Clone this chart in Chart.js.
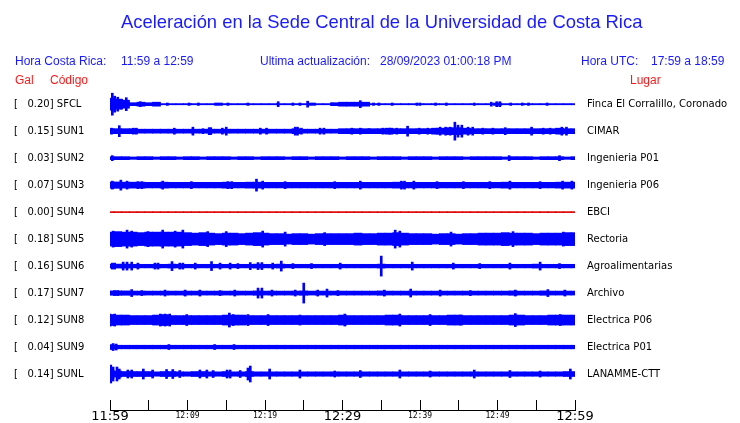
<!DOCTYPE html>
<html>
<head>
<meta charset="utf-8">
<script src="https://cdn.jsdelivr.net/npm/chart.js@4/dist/chart.umd.min.js"></script>
<style>
  body { margin: 0; background: #fff; }
  #wrap { position: relative; width: 740px; height: 423px; overflow: hidden; }
  #chart { position: absolute; left: 0; top: 0; }
  .t { position: absolute; white-space: nowrap; font-family: "Liberation Sans", Arial, sans-serif; }
  .blue { color: #1a1aff; }
  .red { color: #ff1a1a; }
  .h2 { font-size: 12px; line-height: 14px; top: 54px; }
  .h3 { font-size: 12px; line-height: 14px; top: 73px; }
</style>
</head>
<body>
<div id="wrap">
  <canvas id="chart" width="740" height="423"></canvas>
  <div class="t blue" style="left:121px; top:12px; font-size:18.4px; line-height:20px;">Aceleración en la Sede Central de la Universidad de Costa Rica</div>
  <div class="t blue h2" style="left:15px;">Hora Costa Rica:</div>
  <div class="t blue h2" style="left:121px;">11:59 a 12:59</div>
  <div class="t blue h2" style="left:260px;">Ultima actualización:</div>
  <div class="t blue h2" style="left:380px;">28/09/2023 01:00:18 PM</div>
  <div class="t blue h2" style="left:581px;">Hora UTC:</div>
  <div class="t blue h2" style="left:651px;">17:59 a 18:59</div>
  <div class="t red h3" style="left:15px;">Gal</div>
  <div class="t red h3" style="left:50px;">Código</div>
  <div class="t red h3" style="left:630px;">Lugar</div>
</div>
<script>
// estaciones (de arriba hacia abajo)
const codes  = ["SFCL","SUN1","SUN2","SUN3","SUN4","SUN5","SUN6","SUN7","SUN8","SUN9","SUNL"];
const gal    = [0.20, 0.15, 0.03, 0.07, 0.00, 0.18, 0.16, 0.17, 0.12, 0.04, 0.14];
const places = ["Finca El Corralillo, Coronado","CIMAR","Ingenieria P01","Ingenieria P06","EBCI",
                "Rectoria","Agroalimentarias","Archivo","Electrica P06","Electrica P01","LANAMME-CTT"];

// eje de tiempo: minutos desde 11:59
const minutes = [0,1,2,3,4,5,6,7,8,9,10,11,12,13,14,15,16,17,18,19,20,21,22,23,24,25,26,27,28,29,
                 30,31,32,33,34,35,36,37,38,39,40,41,42,43,44,45,46,47,48,49,50,51,52,53,54,55,56,57,58,59,60];
const tickMinutes = [0,5,10,15,20,25,30,35,40,45,50,55,60];
const timeLabels  = ["11:59","12:09","12:19","12:29","12:39","12:49","12:59"];

// amplitud de la envolvente por minuto (27 unidades = separacion entre trazas)
const envSFCL = [6,5,4,1.5,2,1.5,2,0.6,0.6,0.6, 0.6,0.6,0.6,0.6,1.2,0.6,0.6,0.6,0.6,0.6,
                 0.6,0.6,0.6,0.6,0.6,0.6,1.2,0.6,0.6,1.5, 2,2,2,2,0.6,0.6,0.6,0.6,0.6,0.6,
                 0.6,0.6,0.6,0.6,0.6,0.6,0.6,0.6,0.6,0.6, 1.2,0.6,0.6,0.6,0.6,0.6,0.6,0.6,0.6,0.6, 0.6];
const envSUN1 = [2.5,2.5,2.5,2.5,2,2,2,2,2,2, 2,2,2,2,2,2,2,2,2,2, 2,2,2,2,2.5,2,2,2,2,2,
                 2.5,2.5,2.5,2.5,2.5,2.5,3,2.5,2.5,2.5, 2.5,2.5,3,3,3.5,3.5,3,2.5,2.5,2.5,
                 2.5,2.5,2.5,2.5,2.5,2.5,2.5,2.5,3,2.5, 2.5];
const envSUN2 = [1.5,1.5,1.5,1.2,1.5,1.5,1.2,1.5,1.5,1.2, 1.5,1.5,1.2,1.5,1.5,1.5,1.2,1.5,1.5,1.2,
                 1.5,1.5,1.5,1.2,1.5,1.5,1.2,1.5,1.5,1.5, 1.2,1.5,1.5,1.5,1.2,1.5,1.5,1.5,1.2,1.5,
                 1.5,1.5,1.2,1.5,1.5,1.5,1.2,1.5,1.5,1.5, 1.5,1.2,1.5,1.5,1.5,1.2,1.5,1.5,1.5,1.2, 1.5];
const envSUN3 = [3.2,3.2,3,3,3,2.8,2.8,3,2.8,2.8, 2.8,2.8,2.8,2.8,2.8,3,2.8,2.8,3,3,
                 2.8,2.8,2.8,2.8,2.8,2.8,2.8,2.8,2.8,2.8, 2.8,2.8,2.8,2.8,2.8,2.8,2.8,3,2.8,2.8,
                 2.8,2.8,2.8,2.8,2.8,2.8,2.8,2.8,2.8,2.8, 2.8,3,2.8,2.8,2.8,2.8,2.8,2.8,3,3, 3];
const envSUN4 = [0.5,0.5,0.5,0.5,0.5,0.5,0.5,0.5,0.5,0.5, 0.5,0.5,0.5,0.5,0.5,0.5,0.5,0.5,0.5,0.5,
                 0.5,0.5,0.5,0.5,0.5,0.5,0.5,0.5,0.5,0.5, 0.5,0.5,0.5,0.5,0.5,0.5,0.5,0.5,0.5,0.5,
                 0.5,0.5,0.5,0.5,0.5,0.5,0.5,0.5,0.5,0.5, 0.5,0.5,0.5,0.5,0.5,0.5,0.5,0.5,0.5,0.5, 0.5];
const envSUN5 = [7,7.5,7,7,6.5,7,7,7,7,7, 6.5,6,6.5,6,5.5,6,6,5.5,6,6.5,
                 6,5.5,5.5,5,5.5,5.5,5,5.5,5.5,5.5, 5.5,5.5,6,5.5,5.5,6,6,6.5,6,5.5,
                 5.5,5.5,5,5.5,5.5,5,5.5,5.5,6,6, 6,6.5,6,6,6,5.5,6,6,6,6.5, 6.5];
const envSUN6 = [2,2,2,1.8,1.8,1.8,1.8,1.8,2,1.8, 1.8,1.8,1.8,1.8,1.8,1.8,1.8,1.8,1.8,2,
                 1.8,1.8,2,1.8,1.8,1.8,1.8,1.8,1.8,1.8, 1.8,1.8,1.8,1.8,1.8,2,1.8,1.8,1.8,1.8,
                 1.8,1.8,1.8,1.8,1.8,1.8,1.8,1.8,1.8,1.8, 1.8,1.8,1.8,1.8,1.8,2,1.8,1.8,1.8,1.8, 1.8];
const envSUN7 = [2.2,2.2,2.2,2,2,2,2,2,2,2, 2,2,2,2,2,2,2,2,2,2.2,
                 2,2,2,2,2,2.2,2,2,2,2, 2,2,2,2,2,2.2,2,2,2,2,
                 2,2,2,2,2,2,2,2,2,2, 2,2,2.2,2,2,2,2.2,2,2,2, 2];
const envSUN8 = [5.5,5,5,4.5,4.5,4.5,5,5.5,4.5,4.5, 4.5,4.5,4.5,4.5,4.5,5,5,5,4.5,4.5,
                 4.5,4.5,4.5,4.5,4.5,4.5,4.5,4.5,4.5,4.5, 5,4.5,4.5,4.5,4.5,4.5,5,5,4.5,4.5,
                 4.5,4.5,4.5,4.5,5,5,4.5,4.5,4.5,4.5, 4.5,4.5,5,5,4.5,4.5,4.5,5,5,5, 5];
const envSUN9 = [2.5,1.8,1.8,1.8,1.8,1.8,1.8,1.8,1.8,1.8, 1.8,1.8,1.8,1.8,1.8,1.8,1.8,1.8,1.8,1.8,
                 1.8,1.8,1.8,1.8,1.8,1.8,1.8,1.8,1.8,1.8, 1.8,1.8,1.8,1.8,1.8,1.8,1.8,1.8,1.8,1.8,
                 1.8,1.8,1.8,1.8,1.8,1.8,1.8,1.8,1.8,1.8, 1.8,1.8,1.8,1.8,1.8,1.8,1.8,1.8,1.8,1.8, 1.8];
const envSUNL = [4,3,2.5,2.5,2.5,2.5,2.2,2.5,2.5,2.2, 2.2,2.5,2.5,2.2,2.2,2.5,2.2,2.2,2.5,2.2,
                 2.2,2.2,2.2,2.2,2.2,2.2,2.2,2.2,2.2,2.2, 2.2,2.2,2.2,2.2,2.2,2.2,2.2,2.2,2.2,2.2,
                 2.2,2.2,2.2,2.2,2.2,2.2,2.2,2.2,2.2,2.2, 2.2,2.2,2.2,2.2,2.2,2.2,2.2,2.2,2.2,2.5, 2.5];

// picos: [minuto, amplitud]
const spkSFCL = [[0.3,11],[0.6,8],[1.0,7],[1.5,5],[2.1,6.5],[3.9,2.5],[7.4,1.2],[10.2,1.2],[11.4,1.2],
                 [15.2,1.2],[17.8,1.2],[21.7,2.5],[23.6,1.2],[24.5,1.2],[25.5,3],[28.6,1.2],[32.3,3.5],
                 [34,1.2],[34.7,1.2],[36.4,1.2],[39.6,1.2],[40,1.2],[42,1.2],[43.4,1.2],[47,1.2],
                 [49.2,2],[49.9,2.5],[50.3,2.5],[51.7,1.2],[53.2,1.2],[54,1.2],[56.4,1.2]];
const spkSUN1 = [[0.2,3],[1.2,5.5],[3,3],[3.4,3],[8.3,3],[10.7,4],[12,2.5],[12.8,3.5],[13,3.5],[14.5,3],
                 [15,4],[19.4,3],[20.2,3],[23.9,4],[24.2,4],[24.7,3],[27.1,3],[27.6,3],[31.2,3],[32.3,3],
                 [33.4,2.5],[35.2,3],[36.1,3],[37,3],[38.4,5],[39.9,3],[41,3],[42.2,3],[42.6,4],[43.3,4],
                 [43.9,4],[44.5,9],[44.9,6],[45.4,6],[46.2,4],[46.8,4],[48.1,3],[49.4,3],[51,3.5],
                 [54.4,4],[55.9,3],[56.8,3],[58.3,4],[58.9,4]];
const spkSUN2 = [[0.3,2.5],[51.5,2.5],[58,2.5]];
const spkSUN3 = [[0.3,4],[1.4,5],[2.2,4],[3.6,3.5],[4.1,3.5],[6.8,4],[10.5,3.5],[15.2,3.5],[15.7,3.5],
                 [18.9,6],[19.7,4],[22.6,3.5],[29,3.5],[32.3,4],[37.6,4],[38,4],[39.2,4],[42.2,3.5],
                 [45.6,3.5],[49,3.5],[51.6,4],[55.5,3.5],[58.4,4],[59.6,4]];
const spkSUN4 = [];
const spkSUN5 = [[0.4,8],[2.2,9],[2.8,8],[4.9,7.5],[6.8,9],[8.4,8],[9.4,9],[12.6,7.5],[15,7.5],
                 [19.7,8],[22.6,7],[27.7,6.5],[36.8,9],[37.4,8],[44,7],[52,7.5],[58.5,7]];
const spkSUN6 = [[0.3,3],[0.6,3],[1.7,4],[2.2,4],[2.8,4],[3.6,3],[5.8,3],[6.2,3],[8,4.5],[9,3],[9.4,3],
                 [11,3],[13.1,4.5],[14.2,3],[15.5,3],[16.5,2.5],[18.1,3.5],[19.1,3.5],[19.6,3.5],
                 [21,3],[22.1,5],[23.6,2.5],[26,2.5],[29.7,3],[35,10],[39,4],[44.3,3],[47.7,2.5],
                 [51.6,3],[55.5,4],[58,2.5]];
const spkSUN7 = [[0.6,2.5],[1,2.5],[2.8,3.5],[4.1,2.5],[7.1,3],[9.7,3],[11.6,3],[14.2,2.5],[16.1,3],
                 [19.1,5],[19.6,5],[20.9,3],[23.9,3],[25,10],[26.8,3],[28,4],[29.4,2.5],[35.4,3],
                 [38.8,4],[42.6,3],[46.5,2.5],[52.3,3],[56.5,3.5],[58.7,3]];
const spkSUN8 = [[0,6],[0.6,6],[6.5,6],[7.1,6],[7.7,6],[9.9,5.5],[15.4,7],[15.9,5.5],[17.8,5.5],
                 [20.4,5.5],[24.5,5],[30.3,6],[37.4,6],[41.3,5.5],[45.2,5],[52.3,6.5],[58.1,5.5]];
const spkSUN9 = [[0.4,3.5],[0.8,3],[7.6,2.5],[13.5,2.5],[16,2.5]];
const spkSUNL = [[0.1,9],[0.4,7],[0.9,7],[1.2,5],[2.3,4],[2.8,4],[4.3,5],[5.5,4],[7.3,4.5],[8.1,4.5],
                 [9,3.5],[11.6,4],[12.5,4],[13.3,3.5],[15.1,4],[15.5,4],[16.8,3.5],[17.8,6],[18.1,8],
                 [20.6,5],[24.5,4],[29,3],[32.3,3.5],[37.4,4],[41.3,3],[47,4],[51.6,3.5],[55.5,3],[59.4,5]];

const envelopes = [envSFCL,envSUN1,envSUN2,envSUN3,envSUN4,envSUN5,envSUN6,envSUN7,envSUN8,envSUN9,envSUNL];
const spikes    = [spkSFCL,spkSUN1,spkSUN2,spkSUN3,spkSUN4,spkSUN5,spkSUN6,spkSUN7,spkSUN8,spkSUN9,spkSUNL];

const AMP_PER_ROW = 27;
const BLUE = "#0000ff", RED = "#e00000";

const datasets = [];
codes.forEach((code, i) => {
  const color = code === "SUN4" ? RED : BLUE;
  const band = (m, a) => ({ x: m, y: [i - a / AMP_PER_ROW, i + a / AMP_PER_ROW] });
  datasets.push({ label: code, data: minutes.map((m, k) => band(m, envelopes[i][k])),
                  backgroundColor: color, barThickness: 8 });
  datasets.push({ label: code + " picos", data: spikes[i].map(([m, a]) => band(m, a)),
                  backgroundColor: color, barThickness: 2 });
});

const rowTicks = s => { s.ticks = codes.map((c, i) => ({ value: i })); };

// linea base del eje de tiempo (por debajo de las marcas)
const axisLine = {
  id: "axisLine",
  afterDraw(chart) {
    const s = chart.scales.x, ctx = chart.ctx;
    ctx.save();
    ctx.strokeStyle = "#000";
    ctx.lineWidth = 1;
    ctx.beginPath();
    ctx.moveTo(s.left, Math.round(s.top) + 0.5);
    ctx.lineTo(s.right + 1, Math.round(s.top) + 0.5);
    ctx.stroke();
    ctx.restore();
  }
};

new Chart(document.getElementById("chart"), {
  type: "bar",
  data: { datasets },
  plugins: [axisLine],
  options: {
    responsive: false,
    animation: false,
    devicePixelRatio: 1,
    layout: { padding: { top: 87, left: 14, right: 0, bottom: 0 } },
    datasets: { bar: { grouped: false } },
    plugins: { legend: { display: false }, tooltip: { enabled: false }, title: { display: false } },
    scales: {
      x: {
        type: "linear", min: 0, max: 60, offset: false,
        afterFit: s => { s.height = 13; },
        afterBuildTicks: s => { s.ticks = tickMinutes.map(v => ({ value: v })); },
        grid: { offset: false, drawOnChartArea: false, drawTicks: true, tickLength: -10, color: "#000" },
        border: { display: true, color: "#000", width: 1 },
        ticks: {
          autoSkip: false, maxRotation: 0, padding: 9.2, color: "#000",
          callback: v => (v % 10 === 0 ? timeLabels[v / 10] : ""),
          font: ctx => (ctx.tick && ctx.tick.value % 30 === 0)
            ? { family: "DejaVu Sans", size: 13, lineHeight: 1.2 }
            : { family: "DejaVu Sans Mono", size: 8, lineHeight: 1.7 }
        }
      },
      y: {
        type: "linear", position: "left", reverse: true, min: -0.637, max: 11.333,
        afterFit: s => { s.width = 96; },
        afterBuildTicks: rowTicks,
        grid: { display: false }, border: { display: false },
        ticks: { autoSkip: false, crossAlign: "far", padding: 0, color: "#000",
                 font: { family: "DejaVu Sans", size: 10 },
                 callback: v => `[   ${gal[v].toFixed(2)}] ${codes[v]}` }
      },
      y2: {
        type: "linear", position: "right", reverse: true, min: -0.637, max: 11.333,
        afterFit: s => { s.width = 165; },
        afterBuildTicks: rowTicks,
        grid: { display: false, drawTicks: true, tickLength: 12 }, border: { display: false },
        ticks: { autoSkip: false, crossAlign: "near", padding: 0, color: "#000",
                 font: { family: "DejaVu Sans", size: 10 },
                 callback: v => places[v] }
      }
    }
  }
});
</script>
</body>
</html>
